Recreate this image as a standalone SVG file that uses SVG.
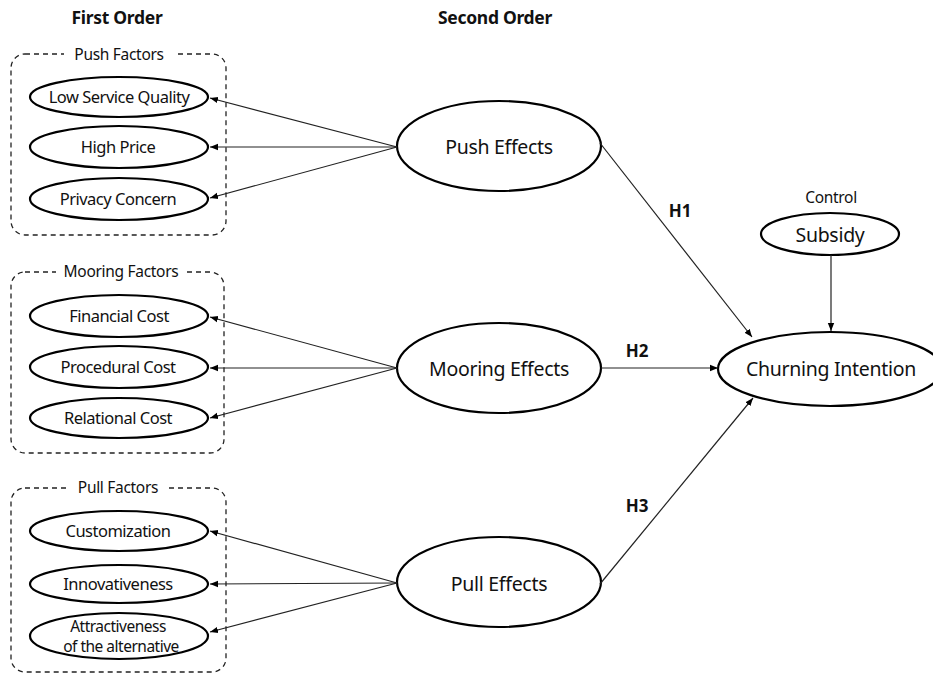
<svg xmlns="http://www.w3.org/2000/svg" width="933" height="673" viewBox="0 0 933 673">
<style>
text{font-family:"Noto Sans","Liberation Sans",sans-serif;fill:#111;text-anchor:middle;dominant-baseline:central}
.t{font-size:17.5px;font-weight:bold;letter-spacing:-0.3px}
.s{font-size:16.5px;letter-spacing:-0.5px}
.s2{font-size:15.5px;letter-spacing:-0.5px}
.m{font-size:19.5px;letter-spacing:-0.3px}
.g{font-size:15.5px;letter-spacing:-0.3px}
.h{font-size:17px;font-weight:bold}
.e{fill:#fff;stroke:#000;stroke-width:2.2}
.box{fill:none;stroke:#222;stroke-width:1.3;stroke-dasharray:5,4}
.c{stroke:#222;stroke-width:1.2;fill:none;marker-end:url(#a)}
</style>
<defs>
<marker id="a" viewBox="0 0 10 10" refX="10" refY="5" markerWidth="8" markerHeight="8" markerUnits="userSpaceOnUse" orient="auto">
<path d="M0,1 L10,5 L0,9 z" fill="#000"/>
</marker>
</defs>
<rect width="933" height="673" fill="#fff"/>
<text class="t" x="117" y="17">First Order</text>
<text class="t" x="495" y="17">Second Order</text>

<g id="push-factors">
<rect class="box" x="11" y="54" width="215" height="181" rx="14"/>
<rect x="64" y="45" width="110" height="18" fill="#fff"/>
<text class="g" x="119" y="54">Push Factors</text>
</g>
<g id="mooring-factors">
<rect class="box" x="11" y="272" width="213" height="181" rx="14"/>
<rect x="56" y="263" width="130" height="18" fill="#fff"/>
<text class="g" x="121" y="271">Mooring Factors</text>
</g>
<g id="pull-factors">
<rect class="box" x="11" y="488" width="215" height="184" rx="14"/>
<rect x="70" y="479" width="96" height="18" fill="#fff"/>
<text class="g" x="118" y="487">Pull Factors</text>
</g>

<g id="low-service-quality"><ellipse class="e" cx="119" cy="97" rx="89" ry="20"/><text class="s" x="119" y="96">Low Service Quality</text></g>
<g id="high-price"><ellipse class="e" cx="119" cy="147" rx="89" ry="21"/><text class="s" x="118" y="146">High Price</text></g>
<g id="privacy-concern"><ellipse class="e" cx="119" cy="199" rx="89" ry="21"/><text class="s" x="118" y="198">Privacy Concern</text></g>

<g id="financial-cost"><ellipse class="e" cx="119" cy="316" rx="89" ry="21"/><text class="s" x="119" y="315">Financial Cost</text></g>
<g id="procedural-cost"><ellipse class="e" cx="119" cy="367" rx="89" ry="21"/><text class="s" x="118" y="366">Procedural Cost</text></g>
<g id="relational-cost"><ellipse class="e" cx="119" cy="418" rx="89" ry="20"/><text class="s" x="118" y="417">Relational Cost</text></g>

<g id="customization"><ellipse class="e" cx="119" cy="531" rx="89" ry="20"/><text class="s" x="118" y="530">Customization</text></g>
<g id="innovativeness"><ellipse class="e" cx="119" cy="584" rx="89" ry="19"/><text class="s" x="118" y="583">Innovativeness</text></g>
<g id="attractiveness"><ellipse class="e" cx="119" cy="636" rx="89" ry="23"/><text class="s2" x="118" y="626">Attractiveness</text><text class="s2" x="121" y="646">of the alternative</text></g>

<g id="push-effects"><ellipse class="e" cx="499" cy="146" rx="102" ry="45"/><text class="m" x="499" y="146">Push Effects</text></g>
<g id="mooring-effects"><ellipse class="e" cx="499" cy="368" rx="102" ry="45"/><text class="m" x="499" y="368">Mooring Effects</text></g>
<g id="pull-effects"><ellipse class="e" cx="499" cy="582" rx="102" ry="45"/><text class="m" x="499" y="583">Pull Effects</text></g>

<g id="subsidy"><text class="g" x="831" y="197">Control</text><ellipse class="e" cx="830" cy="234" rx="69" ry="21"/><text class="m" x="830" y="234">Subsidy</text></g>
<g id="churning-intention"><ellipse class="e" cx="830" cy="369" rx="112" ry="37"/><text class="m" x="831" y="368">Churning Intention</text></g>

<g id="connectors">
<line class="c" x1="397" y1="147" x2="210" y2="98"/>
<line class="c" x1="397" y1="147" x2="210" y2="147"/>
<line class="c" x1="397" y1="147" x2="210" y2="198"/>
<line class="c" x1="397" y1="368" x2="210" y2="317"/>
<line class="c" x1="397" y1="368" x2="210" y2="368"/>
<line class="c" x1="397" y1="368" x2="210" y2="418"/>
<line class="c" x1="397" y1="583" x2="210" y2="531"/>
<line class="c" x1="397" y1="583" x2="210" y2="584"/>
<line class="c" x1="397" y1="583" x2="210" y2="632"/>
<line class="c" x1="600" y1="143" x2="752" y2="337"/>
<line class="c" x1="601" y1="368" x2="718" y2="368"/>
<line class="c" x1="600" y1="584" x2="753" y2="398"/>
<line class="c" x1="831" y1="255" x2="831" y2="331"/>
<text class="h" x="680" y="210">H1</text>
<text class="h" x="637" y="350">H2</text>
<text class="h" x="637" y="505">H3</text>
</g>
</svg>
